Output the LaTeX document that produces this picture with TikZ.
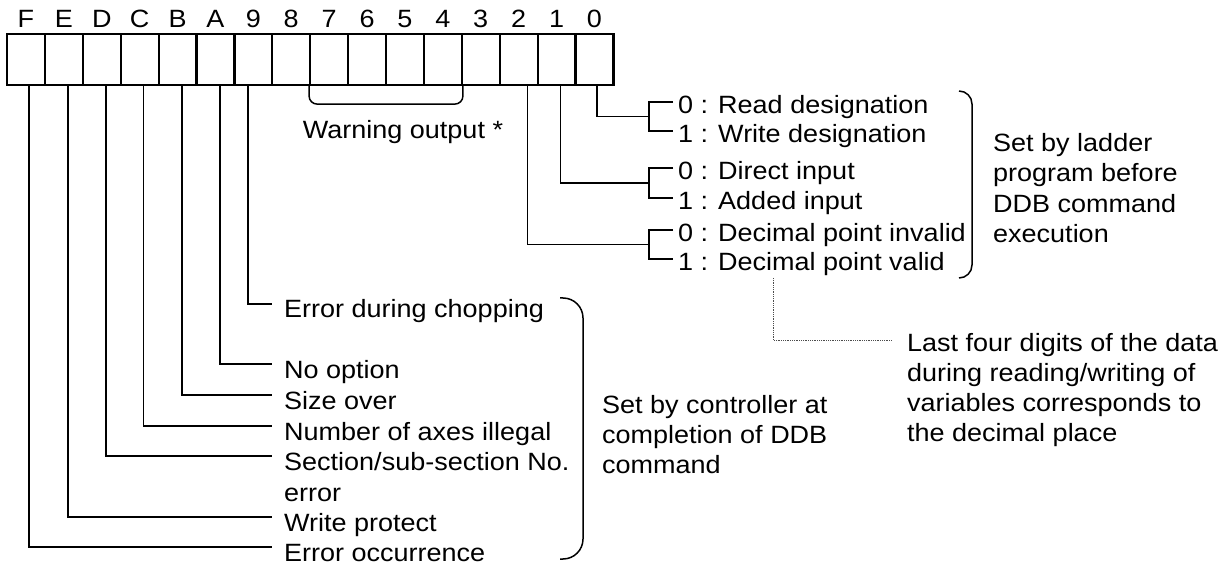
\documentclass[tikz,border=0pt]{standalone}
\usepackage{fontspec}
\setmainfont{Liberation Sans}[FakeStretch=1.08]
\usetikzlibrary{calc}

\begin{document}
\begin{tikzpicture}[x=1pt,y=-1pt,
  cell/.style={draw,line width=2.2pt,minimum width=37.9pt,minimum height=51pt,inner sep=0pt},
  txt/.style={font=\fontsize{25}{30}\selectfont,inner sep=0pt},
  wire/.style={line width=1.5pt},
  errlbl/.style={txt,anchor=base west,inner xsep=12pt,text height=28pt,text depth=0pt},
  sellbl/.style={txt,anchor=base west,inner xsep=5pt,text height=24pt,text depth=0pt},
  note/.style={txt,anchor=north west,align=left}]

\useasboundingbox (0,0) rectangle (1224,569);

% register with bit numbers
\foreach \i/\h in {15/F,14/E,13/D,12/C,11/B,10/A,9/9,8/8,7/7,6/6,5/5,4/4,3/3,2/2,1/1,0/0}{
  \node[cell] (b\i) at ({7+(15.5-\i)*37.9},59.5) {};
  \node[txt,anchor=base] (l\i) at ({7+(15.5-\i)*37.9},28) {\h};
}

% bits 7-4
\draw[wire,rounded corners=8pt] (b7.south west) -- ++(0,18) -| (b4.south east);
\node[txt] (warn) at (403,132) {Warning output *};

% bits 0-2
\node[sellbl] (zero0) at (673,114) {0 : Read designation};
\node[sellbl] (one0) at (673,143) {1 : Write designation};
\node[sellbl] (zero1) at (673,180) {0 : Direct input};
\node[sellbl] (one1) at (673,210) {1 : Added input};
\node[sellbl] (zero2) at (673,242) {0 : Decimal point invalid};
\node[sellbl] (one2) at (673,271) {1 : Decimal point valid};

\foreach \k/\dx in {0/2.3,1/4,2/9}{
  \draw[wire] (zero\k.west) -- ++(-24,0) |- (one\k.west);
  \draw[wire] ([xshift=\dx pt]b\k.south) |- ($(zero\k.west)!.5!(one\k.west)+(-24,0)$);
}

\draw[wire,rounded corners=13pt] (959,91) -| (972,185) |- (959,278);
\node[note,font=\fontsize{25}{30.5}\selectfont] (ladder) at (993,133) {Set by ladder\\program before\\DDB command\\execution};

% decimal place note
\coordinate (dp) at (773,278);
\node[note] (digits) at (907,333) {Last four digits of the data\\during reading/writing of\\variables corresponds to\\the decimal place};
\draw[densely dotted,line width=0.8pt,black!70] (dp) |- ([xshift=-15pt,yshift=-7pt]digits.north west);

% bits 9-F
\node[errlbl] (chop) at (272,318) {Error during chopping};
\node[errlbl] (noopt) at (272,378) {No option};
\node[errlbl] (size) at (272,409) {Size over};
\node[errlbl] (axes) at (272,440) {Number of axes illegal};
\node[errlbl] (sect) at (272,470) {Section/sub-section No.};
\node[errlbl] (secterr) at (272,501) {error};
\node[errlbl] (wp) at (272,531) {Write protect};
\node[errlbl] (occ) at (272,561) {Error occurrence};

\foreach \i/\dx/\t in {9/-5.4/chop,10/4.5/noopt,11/4.4/size,12/4/axes,13/4/sect,14/4/wp,15/3/occ}
  \draw[wire] ([xshift=\dx pt]b\i.south) |- (\t.west);

\draw[wire,rounded corners=20pt] (560,298) -| (583,428) |- (560,559);
\node[note] (ctrl) at (602,395) {Set by controller at\\completion of DDB\\command};

\end{tikzpicture}
\end{document}
